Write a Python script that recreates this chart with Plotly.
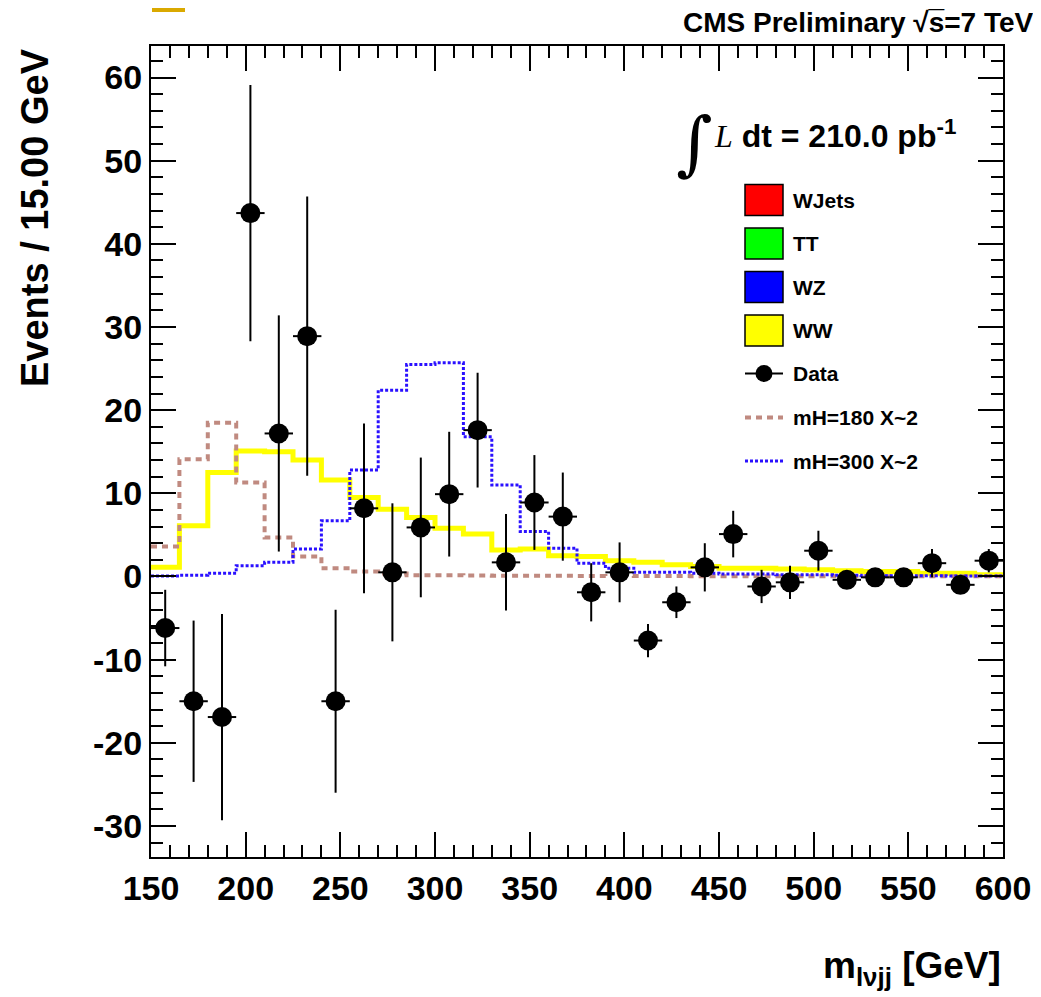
import plotly.graph_objects as go

# histogram binning (15 GeV bins)
bin_lo = [150, 165, 180, 195, 210, 225, 240, 255, 270, 285,
          300, 315, 330, 345, 360, 375, 390, 405, 420, 435,
          450, 465, 480, 495, 510, 525, 540, 555, 570, 585]
x_max = 600
bin_center = [b + 7.5 for b in bin_lo]

data_y = [-6.2, -15.0, -16.9, 43.7, 17.2, 28.9, -15.0, 8.2, 0.5, 5.9,
          9.9, 17.6, 1.7, 8.9, 7.2, -1.9, 0.5, -7.7, -3.1, 1.1,
          5.1, -1.2, -0.7, 3.1, -0.4, -0.1, -0.1, 1.6, -1.0, 1.9]
data_err = [4.6, 9.7, 12.4, 15.4, 14.2, 16.8, 11.0, 10.2, 8.3, 8.4,
            7.5, 6.9, 5.8, 5.7, 5.3, 3.5, 3.6, 2.0, 1.9, 2.9,
            2.8, 2.0, 2.0, 2.4, 0.9, 0.5, 0.5, 1.7, 0.8, 1.4]

ww = [1.1, 6.1, 12.5, 15.1, 15.0, 14.0, 11.6, 9.5, 8.1, 7.1,
      5.8, 5.1, 3.2, 3.3, 2.5, 2.4, 1.9, 1.7, 1.4, 1.2,
      1.0, 1.0, 0.9, 0.8, 0.7, 0.6, 0.6, 0.4, 0.4, 0.2]
mh180 = [3.6, 14.1, 18.5, 11.3, 4.7, 2.4, 1.0, 0.6, 0.35, 0.15,
         0.15, 0.12, 0.1, 0.1, 0.08, 0.07, 0.06, 0.05, 0.05, 0.04,
         0.04, 0.03, 0.03, 0.03, 0.02, 0.02, 0.02, 0.02, 0.02, 0.02]
mh300 = [0.05, 0.15, 0.4, 1.3, 1.7, 3.3, 6.7, 12.8, 22.4, 25.5,
         25.7, 16.8, 11.0, 5.4, 3.4, 1.6, 1.0, 0.5, 0.5, 0.4,
         0.3, 0.3, 0.2, 0.2, 0.15, 0.1, 0.1, 0.1, 0.05, 0.05]

x_ticks = [150, 200, 250, 300, 350, 400, 450, 500, 550, 600]
y_ticks = [-30, -20, -10, 0, 10, 20, 30, 40, 50, 60]

legend_names = ["WJets", "TT", "WZ", "WW", "Data", "mH=180 X~2", "mH=300 X~2"]
legend_kind = ["box", "box", "box", "box", "data", "dash", "dot"]
legend_colors = ["#ff0000", "#00ff00", "#0000ff", "#ffff00", "black", "#c08a80", "#2a10ff"]

BROWN = "#c08a80"
BLUE = "#2a10ff"
DASH = "6px,5px"
DOT = "3px,2px"


def steps(vals):
    return bin_lo + [x_max], vals + [vals[-1]]


fig = go.Figure()

sx, sy = steps(ww)
fig.add_trace(go.Scatter(x=sx, y=sy, mode="lines", line_shape="hv",
                         line=dict(color="#ffff00", width=5), showlegend=False))
sx, sy = steps(mh180)
fig.add_trace(go.Scatter(x=sx, y=sy, mode="lines", line_shape="hv",
                         line=dict(color=BROWN, width=4, dash=DASH), showlegend=False))
sx, sy = steps(mh300)
fig.add_trace(go.Scatter(x=sx, y=sy, mode="lines", line_shape="hv",
                         line=dict(color=BLUE, width=3, dash=DOT), showlegend=False))

fig.add_trace(go.Scatter(
    x=bin_center, y=data_y, mode="markers",
    marker=dict(color="black", size=20),
    error_y=dict(type="data", array=data_err, width=0, thickness=2, color="black"),
    error_x=dict(type="constant", value=7.5, width=0, thickness=2, color="black"),
    showlegend=False))

FONT = "Liberation Sans, Arial, sans-serif"

# page body adds 8px offset; plot frame lands on 151..1003 x 46..857
fig.update_layout(
    width=1041, height=997,
    margin=dict(l=143, r=46, t=38, b=148),
    plot_bgcolor="white", paper_bgcolor="white",
    font=dict(family=FONT, color="black"),
    showlegend=False,
)

fig.update_xaxes(
    range=[150, 600], tickvals=x_ticks, ticktext=[str(v) for v in x_ticks],
    showline=True, linecolor="black", linewidth=2, mirror="allticks",
    ticks="inside", ticklen=25, tickwidth=2, tickcolor="black",
    minor=dict(ticks="inside", ticklen=12, dtick=10, tick0=150, tickwidth=2, tickcolor="black"),
    showgrid=False, zeroline=False,
    tickfont=dict(size=34, family=FONT, weight="bold"),
)
fig.update_yaxes(
    range=[-33.73, 63.79], tickvals=y_ticks, ticktext=[str(v) for v in y_ticks],
    showline=True, linecolor="black", linewidth=2, mirror="allticks",
    ticks="inside", ticklen=25, tickwidth=2, tickcolor="black",
    minor=dict(ticks="inside", ticklen=12, dtick=2, tick0=0, tickwidth=2, tickcolor="black"),
    showgrid=False, zeroline=False,
    tickfont=dict(size=34, family=FONT, weight="bold"),
)


def px_x(p):
    return (p - 151) / 852


def px_y(p):
    return (857 - p) / 811


# legend drawn by hand
row_y = [200, 243.5, 287, 330.5, 373.5, 417.5, 461]
for name, kind, col, ry in zip(legend_names, legend_kind, legend_colors, row_y):
    if kind == "box":
        fig.add_shape(type="rect", xref="paper", yref="paper",
                      x0=px_x(745), x1=px_x(783), y0=px_y(ry + 15.5), y1=px_y(ry - 15.5),
                      fillcolor=col, line=dict(color="black", width=1.5))
    elif kind == "data":
        fig.add_shape(type="line", xref="paper", yref="paper",
                      x0=px_x(745), x1=px_x(783), y0=px_y(ry), y1=px_y(ry),
                      line=dict(color="black", width=2))
        fig.add_shape(type="circle", xref="paper", yref="paper",
                      x0=px_x(755.5), x1=px_x(772.5), y0=px_y(ry + 8.5), y1=px_y(ry - 8.5),
                      fillcolor="black", line=dict(color="black", width=0))
    else:
        fig.add_shape(type="line", xref="paper", yref="paper",
                      x0=px_x(745), x1=px_x(783), y0=px_y(ry), y1=px_y(ry),
                      line=dict(color=col, width=4 if kind == "dash" else 3,
                                dash=DASH if kind == "dash" else DOT))
    fig.add_annotation(x=px_x(791), y=px_y(ry), xref="paper", yref="paper",
                       xanchor="left", yanchor="middle", showarrow=False,
                       text="<b>%s</b>" % name, font=dict(size=21, family=FONT))

# top-left marker strip (clipped by the page top)
fig.add_shape(type="rect", xref="paper", yref="paper",
              x0=px_x(152), x1=px_x(185), y0=px_y(12), y1=px_y(8),
              fillcolor="#daa900", line=dict(width=0))

fig.add_annotation(x=px_x(1036), y=px_y(23), xref="paper", yref="paper",
                   xanchor="right", yanchor="middle", showarrow=False,
                   text="<b>CMS Preliminary √s\u0305=7 TeV</b>",
                   font=dict(size=28, family=FONT))

fig.add_annotation(x=px_x(694), y=px_y(143), xref="paper", yref="paper",
                   xanchor="center", yanchor="middle", showarrow=False,
                   text="∫", font=dict(size=70, family="DejaVu Serif, serif"))
fig.add_annotation(x=px_x(712), y=px_y(134), xref="paper", yref="paper",
                   xanchor="left", yanchor="middle", showarrow=False,
                   text="<span style='font-family:Liberation Serif;font-style:italic'>L</span>"
                        " <b>dt = 210.0 pb<sup>-1</sup></b>",
                   font=dict(size=32, family=FONT))

fig.add_annotation(x=px_x(35), y=px_y(218), xref="paper", yref="paper",
                   xanchor="center", yanchor="middle", showarrow=False, textangle=-90,
                   text="<b>Events / 15.00 GeV</b>", font=dict(size=38, family=FONT))

fig.add_annotation(x=px_x(1003), y=px_y(968), xref="paper", yref="paper",
                   xanchor="right", yanchor="middle", showarrow=False,
                   text="<b>m<sub>lνjj</sub> [GeV]</b>", font=dict(size=37, family=FONT))

fig.write_html("out.html")
